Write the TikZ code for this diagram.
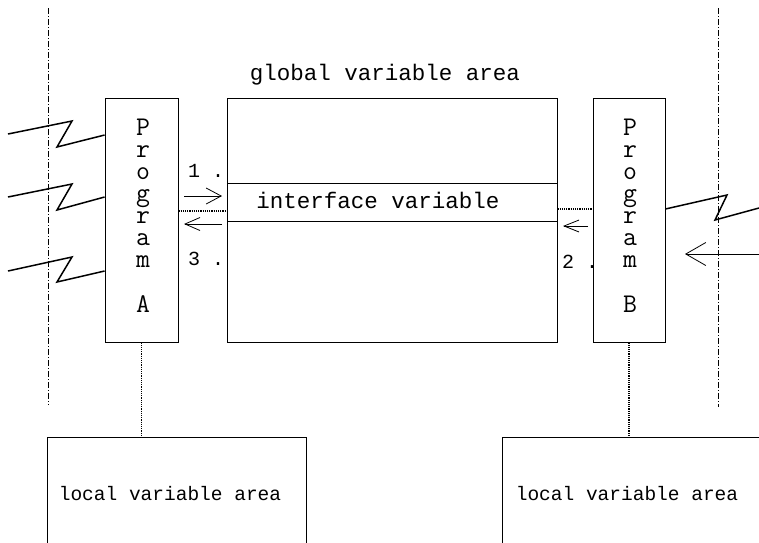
\documentclass[tikz,border=0pt]{standalone}
\usepackage{fontspec}
\newfontfamily\labelfont{Liberation Mono}
\usetikzlibrary{arrows.meta}

\begin{document}
\begin{tikzpicture}[x=1pt,y=-1pt,
  box/.style={draw,line width=0.8pt,rectangle,inner sep=0pt},
  chan/.style={line width=1.8pt,dash pattern=on 1.2pt off 1pt},
  border/.style={line width=0.7pt,dash pattern=on 6pt off 2pt on 1pt off 2pt},
  bolt/.style={line width=1.5pt,line join=miter},
  flow/.style={line width=0.8pt},
  column/.style={font=\ttfamily\fontsize{27}{22}\selectfont,align=center,anchor=base,inner sep=0pt},
  caption/.style={font=\labelfont\fontsize{22.5}{22.5}\selectfont,anchor=base,inner sep=0pt},
  localcap/.style={font=\labelfont\fontsize{19.5}{19.5}\selectfont,anchor=base,inner sep=0pt},
  num/.style={font=\labelfont\fontsize{20}{20}\selectfont,anchor=base,inner sep=0pt},
]
\useasboundingbox (0,0) rectangle (759,542);

% boundaries of the two program domains
\coordinate (bl1) at (48,8);    \coordinate (bl2) at (48,405);
\coordinate (br1) at (718,8);   \coordinate (br2) at (718,407);
\draw[border] (bl1) -- (bl2);
\draw[border] (br1) -- (br2);

% boxes
\node[box,minimum width=73pt,minimum height=244pt] (progA) at (141.5,220) {};
\node[box,minimum width=330pt,minimum height=244pt] (global) at (392,220) {};
\node[box,minimum width=330pt,minimum height=38pt] (iface) at (392,202) {};
\node[box,minimum width=72pt,minimum height=244pt] (progB) at (629,220) {};
\node[box,minimum width=259pt,minimum height=124pt] (localA) at (176.5,499) {};
\node[box,minimum width=259pt,minimum height=124pt] (localB) at (631.5,499) {};

% vertical program names (base anchor sits on the last line)
\node[column] (nameA) at (143,312) {P\\r\\o\\g\\r\\a\\m\\[23pt]A};
\node[column] (nameB) at (630,312) {P\\r\\o\\g\\r\\a\\m\\[23pt]B};

% captions
\node[caption] (gtitle) at (385,80) {global variable area};
\node[caption] (ititle) at (378,208) {interface variable};
\node[localcap] (ltitleA) at (170,500) {local variable area};
\node[localcap] (ltitleB) at (627,500) {local variable area};

% step numbers
\node[num] (n1) at (206,177) {1 .};
\node[num] (n3) at (206,265) {3 .};
\node[num] (n2) at (580,268) {2 .};

% dotted links
\draw[chan] (progA.east |- 0,211) -- (iface.west |- 0,211);
\draw[chan] (iface.east |- 0,209) -- (progB.west |- 0,209);
\draw[chan] (progA.south) -- (progA.south |- localA.north);
\draw[chan] (progB.south) -- (progB.south |- localB.north);

% access arrows
\coordinate (w1s) at (184,196); \coordinate (w1e) at (222,196);
\coordinate (r3s) at (222,224); \coordinate (r3e) at (184,224);
\coordinate (w2s) at (588,226); \coordinate (w2e) at (563,226);
\coordinate (ins) at (759,254); \coordinate (ine) at (685,254);
\draw[flow,-{Straight Barb[length=15pt,width=16pt]}] (w1s) -- (w1e);
\draw[flow,-{Straight Barb[length=15pt,width=13pt]}] (r3s) -- (r3e);
\draw[flow,-{Straight Barb[length=15pt,width=12pt]}] (w2s) -- (w2e);
\draw[flow,-{Straight Barb[length=20pt,width=23pt]}] (ins) -- (ine);

% interrupt signals
\draw[bolt] (8,134) -- (72,121) -- (57,147) -- (progA.west |- 0,135);
\draw[bolt] (8,197) -- (72,184) -- (57,210) -- (progA.west |- 0,197);
\draw[bolt] (8,271) -- (72,257) -- (57,282) -- (progA.west |- 0,271);
\draw[bolt] (progB.east |- 0,209) -- (727,195) -- (715,220) -- (759,208);
\end{tikzpicture}
\end{document}
